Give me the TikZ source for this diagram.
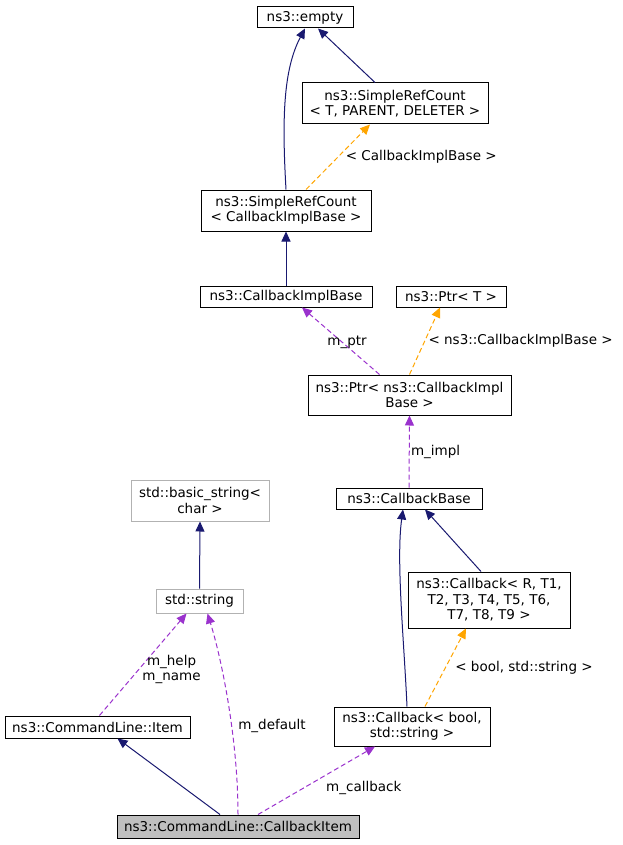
\documentclass[tikz,border=0pt]{standalone}
\usepackage{fontspec}
\setmainfont{DejaVu Sans}
\usetikzlibrary{arrows.meta}
\definecolor{edgeblue}{HTML}{191970}
\definecolor{edgepurple}{HTML}{9A32CD}
\definecolor{edgeorange}{HTML}{FFA500}
\tikzset{
  cls/.style={draw=black, fill=white, inner sep=1pt, align=center, line width=1pt,
    font=\fontsize{13.5}{15.5}\selectfont},
  ext/.style={cls, draw=gray!60},
  cur/.style={cls, fill=gray!50},
  inherit/.style={draw=edgeblue, line width=1pt, -{Triangle[length=10pt,width=9pt]}},
  usage/.style={draw=edgepurple, line width=1pt, dash pattern=on 5pt off 3pt, -{Triangle[length=10pt,width=9pt]}},
  templ/.style={draw=edgeorange, line width=1pt, dash pattern=on 5pt off 3pt, -{Triangle[length=10pt,width=9pt]}},
  lbl/.style={font=\fontsize{13.5}{15.5}\selectfont, align=center}
}
\begin{document}
\begin{tikzpicture}[x=1pt,y=-1pt]
\useasboundingbox (0,0) rectangle (623,845);
% classes
\node[cls, minimum width=96pt, minimum height=21pt] (empty) at (305,17.5) {ns3::empty};
\node[cls, minimum width=186pt, minimum height=41pt] (srcT) at (395,103.5) {ns3::SimpleRefCount\\\textless\ T, PARENT, DELETER \textgreater};
\node[cls, minimum width=170pt, minimum height=41pt] (srcC) at (286,210.5) {ns3::SimpleRefCount\\\textless\ CallbackImplBase \textgreater};
\node[cls, minimum width=172pt, minimum height=21pt] (implBase) at (286,296.5) {ns3::CallbackImplBase};
\node[cls, minimum width=110pt, minimum height=21pt] (ptrT) at (451,296.5) {ns3::Ptr\textless\ T \textgreater};
\node[cls, minimum width=203pt, minimum height=40pt] (ptrC) at (409.5,395) {ns3::Ptr\textless\ ns3::CallbackImpl\\Base \textgreater};
\node[cls, minimum width=146pt, minimum height=21pt] (cbBase) at (409,498.5) {ns3::CallbackBase};
\node[cls, minimum width=162pt, minimum height=56pt] (cbR) at (489,600) {ns3::Callback\textless\ R, T1,\\T2, T3, T4, T5, T6,\\T7, T8, T9 \textgreater};
\node[ext, minimum width=138pt, minimum height=41pt] (basicStr) at (200,500.5) {std::basic\_string\textless\\char \textgreater};
\node[ext, minimum width=87pt, minimum height=24pt] (stdStr) at (199.5,601) {std::string};
\node[cls, minimum width=185pt, minimum height=22pt] (item) at (97.5,727) {ns3::CommandLine::Item};
\node[cls, minimum width=156pt, minimum height=39pt] (cbBool) at (412,726.5) {ns3::Callback\textless\ bool,\\std::string \textgreater};
\node[cur, minimum width=242pt, minimum height=23pt] (cbItem) at (238,826.5) {ns3::CommandLine::CallbackItem};
% edges
\draw[inherit] (srcC.north) .. controls (282,120) and (283,70) .. (empty.south);
\draw[inherit] ([xshift=-20pt]srcT.north) -- ([xshift=13pt]empty.south);
\draw[templ] ([xshift=20pt]srcC.north) -- node[lbl, right, xshift=4pt] {\textless\ CallbackImplBase \textgreater} ([xshift=-25pt]srcT.south);
\draw[inherit] (implBase.north) -- (srcC.south);
\draw[usage] ([xshift=-30pt]ptrC.north) -- node[lbl, pos=0.45, left, xshift=26pt, yshift=2pt] {m\_ptr} ([xshift=16pt]implBase.south);
\draw[templ] (ptrC.north) -- node[lbl, right, xshift=0pt] {\textless\ ns3::CallbackImplBase \textgreater} ([xshift=-11pt]ptrT.south);
\draw[usage] (cbBase.north) -- node[lbl, right, xshift=-2pt] {m\_impl} (ptrC.south);
\draw[inherit] ([xshift=-5pt]cbBool.north) .. controls (404,640) and (396,560) .. ([xshift=-6pt]cbBase.south);
\draw[inherit] ([xshift=-8pt]cbR.north) -- ([xshift=16pt]cbBase.south);
\draw[templ] ([xshift=13pt]cbBool.north) -- node[lbl, right, xshift=6pt] {\textless\ bool, std::string \textgreater} ([xshift=-23pt]cbR.south);
\draw[inherit] (stdStr.north) -- (basicStr.south);
\draw[inherit] ([xshift=-18pt]cbItem.north) -- ([xshift=20pt]item.south);
\draw[usage] ([xshift=2pt]item.north) -- node[lbl, right, pos=0.45, xshift=0pt] {m\_help\\m\_name} ([xshift=-13pt]stdStr.south);
\draw[usage] (cbItem.north) .. controls (238,740) and (222,660) .. ([xshift=8pt]stdStr.south);
\node[lbl] (mdefault) at (272,726) {m\_default};
\draw[usage] ([xshift=20pt]cbItem.north) -- node[lbl, below right, pos=0.55, xshift=0pt] {m\_callback} ([xshift=-37pt]cbBool.south);
\end{tikzpicture}
\end{document}
